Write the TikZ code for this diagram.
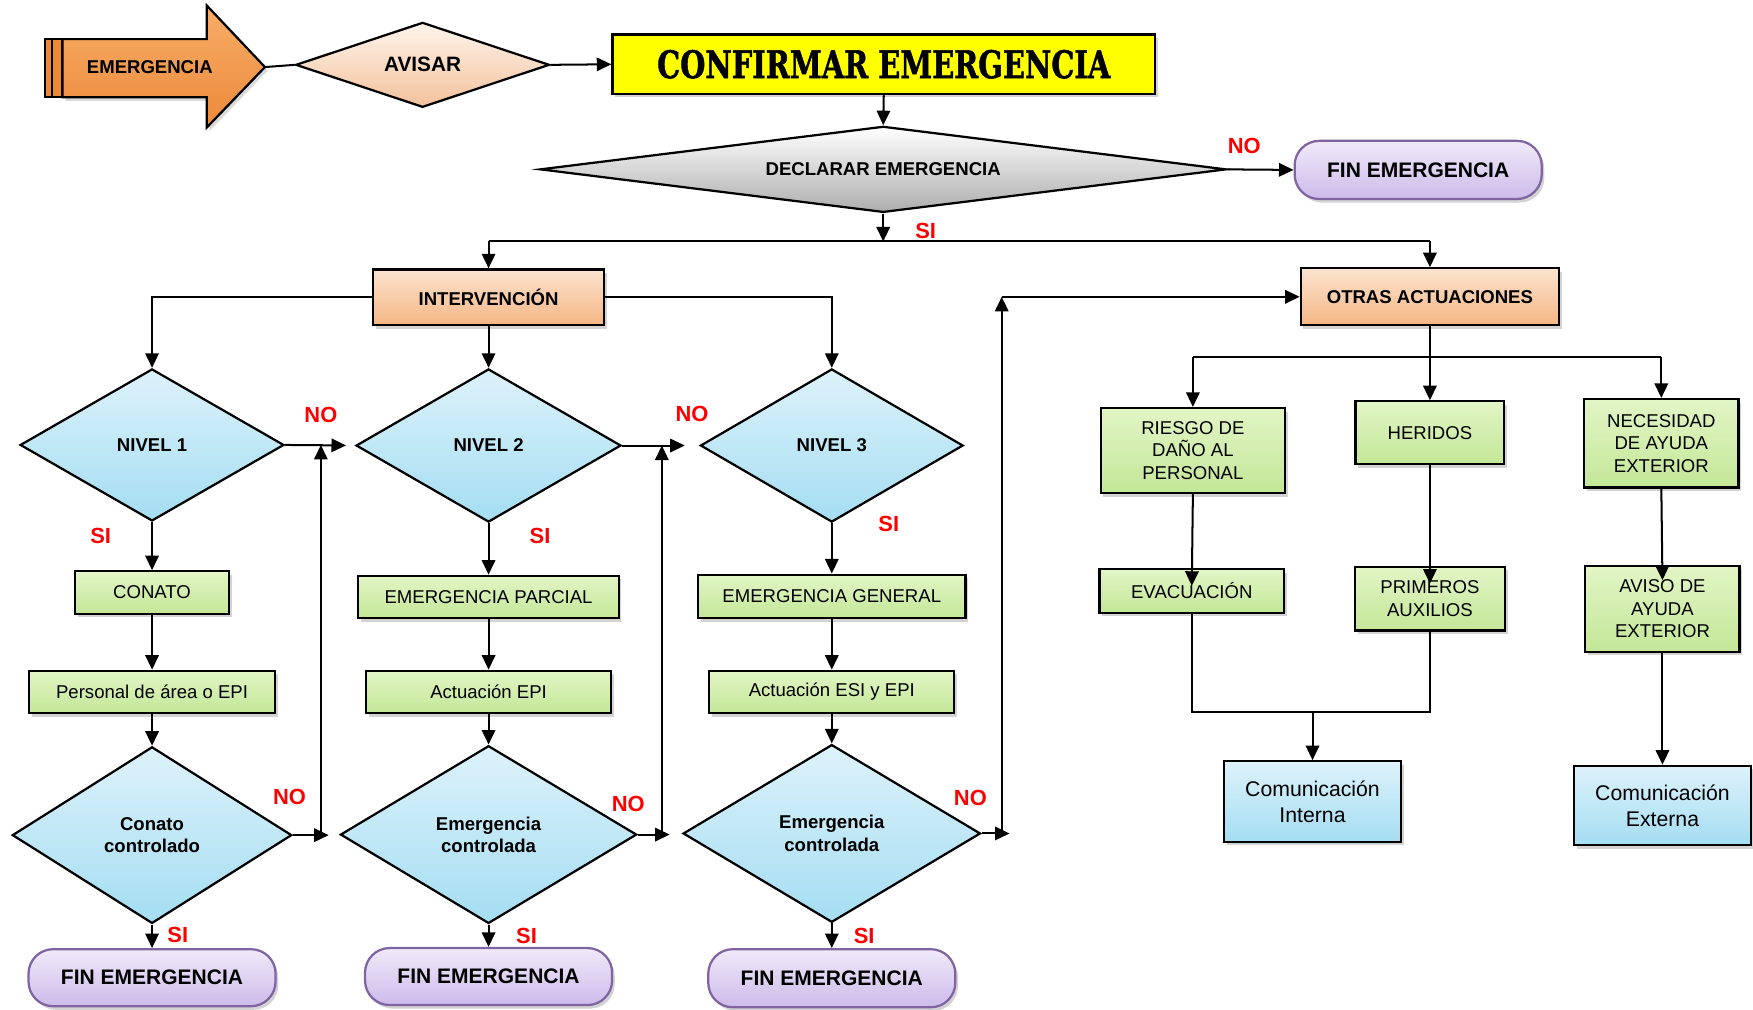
\documentclass[tikz,border=0pt]{standalone}
\usepackage{fontspec}
\setmainfont{Liberation Sans}
\newfontfamily\slabfont{DejaVu Serif}[BoldFeatures={FakeBold=1.5}]
\usetikzlibrary{shapes.geometric,shadows,arrows.meta,calc}
\definecolor{grnT}{HTML}{E2F5C6}
\definecolor{grnB}{HTML}{C3E797}
\definecolor{bluT}{HTML}{DDF2FB}
\definecolor{bluB}{HTML}{A4DDF2}
\definecolor{pchT}{HTML}{FCE3CF}
\definecolor{pchB}{HTML}{F5B684}
\definecolor{lavT}{HTML}{F0EAF9}
\definecolor{lavB}{HTML}{CDBAEA}
\definecolor{lavD}{HTML}{8064A2}
\definecolor{orT}{HTML}{F7AD68}
\definecolor{orB}{HTML}{EC8A3A}
\definecolor{avT}{HTML}{FFF4EC}
\definecolor{avB}{HTML}{F2C29C}
\definecolor{yel}{HTML}{FFFF00}
\definecolor{lblred}{HTML}{FF0000}
\begin{document}
\begin{tikzpicture}[x=0.5pt,y=-0.5pt,
  base/.style={draw=black, line width=1pt, inner sep=1pt, align=center,
    font=\fontsize{8.3}{10}\selectfont},
  shad/.style={drop shadow={opacity=0.35, shadow xshift=1.2pt, shadow yshift=-1.6pt}},
  greenbox/.style={base, rectangle, top color=grnT, bottom color=grnB, shad},
  bluebox/.style={base, rectangle, top color=bluT, bottom color=bluB, shad,
    font=\fontsize{9.5}{11.5}\selectfont},
  peachbox/.style={base, rectangle, top color=pchT, bottom color=pchB, shad,
    font=\bfseries\fontsize{8.3}{10}\selectfont},
  bluediam/.style={base, diamond, aspect=1.7, inner sep=0pt, top color=bluT, bottom color=bluB,
    font=\bfseries\fontsize{8.3}{10}\selectfont},
  finbox/.style={base, draw=lavD, rectangle, rounded corners=11pt, top color=lavT,
    bottom color=lavB, shad, minimum width=110.5pt, minimum height=25.5pt,
    font=\bfseries\fontsize{9.4}{11}\selectfont},
  arr/.style={line width=0.9pt, -{Triangle[length=6.5pt,width=6pt]}},
  ln/.style={line width=0.9pt},
  lab/.style={text=lblred, inner sep=0pt, font=\bfseries\fontsize{9.8}{11}\selectfont}]
\useasboundingbox (0,0) rectangle (1568,903);

% ---- EMERGENCIA arrow
\fill[orB] (40,35) rectangle (46,87);
\draw[line width=0.8pt] (40,35) rectangle (46,87);
\fill[orB] (47,35) rectangle (55,87);
\draw[line width=0.8pt] (47,35) rectangle (55,87);
\path[draw=black, line width=1pt, top color=orT, bottom color=orB,
  drop shadow={opacity=0.3, shadow xshift=1.2pt, shadow yshift=-1.6pt}]
  (56,35) -- (185,35) -- (185,5) -- (237,60) -- (185,114) -- (185,87) -- (56,87) -- cycle;
\node[inner sep=0pt, font=\bfseries\fontsize{8.3}{10}\selectfont] (emerg) at (134,60) {EMERGENCIA};
\coordinate (etip) at (237,60);

% ---- top row
\node[base, diamond, aspect=3, inner sep=0pt, top color=avT, bottom color=avB, minimum width=113.5pt,
  minimum height=38pt, font=\bfseries\fontsize{9.3}{11}\selectfont] (avisar) at (378,58) {AVISAR};
\node[base, rectangle, fill=yel, shad, minimum width=242.5pt, minimum height=26.5pt,
  line width=1.2pt] (confirm) at (790.5,57.5)
  {\slabfont\bfseries\fontsize{17}{18}\selectfont\scalebox{0.76}[1]{CONFIRMAR EMERGENCIA}};
\node[base, diamond, aspect=8, inner sep=0pt, top color=white, bottom color=black!32, minimum width=307pt,
  minimum height=38.5pt, font=\bfseries\fontsize{8.3}{10}\selectfont] (declarar)
  at (790,151.5) {DECLARAR EMERGENCIA};
\node[finbox, minimum height=26pt] (fin0) at (1268.5,152) {FIN EMERGENCIA};

% ---- second level
\node[peachbox, minimum width=103.5pt, minimum height=25pt] (interv) at (437,266) {INTERVENCIÓN};
\node[peachbox, minimum width=115.5pt, minimum height=25.5pt] (otras) at (1279,265.5) {OTRAS ACTUACIONES};

% ---- columns
\node[bluediam, minimum width=118pt, minimum height=68pt] (n1) at (136,398) {NIVEL 1};
\node[bluediam, minimum width=118.5pt, minimum height=68.5pt] (n2) at (437,398.5) {NIVEL 2};
\node[bluediam, minimum width=117.5pt, minimum height=68.5pt] (n3) at (744,398.5) {NIVEL 3};

\node[greenbox, minimum width=69pt, minimum height=19pt] (conato) at (136,530) {CONATO};
\node[greenbox, minimum width=116.5pt, minimum height=19pt] (parcial) at (437,534) {EMERGENCIA PARCIAL};
\node[greenbox, minimum width=119.5pt, minimum height=19.5pt] (general) at (744,533.5) {EMERGENCIA GENERAL};

\node[greenbox, minimum width=110pt, minimum height=19pt] (personal) at (136,619) {Personal de área o EPI};
\node[greenbox, minimum width=109.5pt, minimum height=19pt] (actepi) at (437,619) {Actuación EPI};
\node[greenbox, minimum width=109.5pt, minimum height=19pt] (actesi) at (744,619) {Actuación ESI y EPI};

\node[bluediam, minimum width=125pt, minimum height=79pt] (cc1) at (136,747) {Conato\\controlado};
\node[bluediam, minimum width=132.5pt, minimum height=79.5pt] (cc2) at (437,746.5) {Emergencia\\controlada};
\node[bluediam, minimum width=133pt, minimum height=79.5pt] (cc3) at (744,745.5) {Emergencia\\controlada};

\node[finbox] (fin1) at (136,874.5) {FIN EMERGENCIA};
\node[finbox] (fin2) at (437,873.5) {FIN EMERGENCIA};
\node[finbox, minimum height=26pt] (fin3) at (744,875) {FIN EMERGENCIA};

% ---- right part
\node[greenbox, minimum width=82.5pt, minimum height=38pt] (riesgo) at (1067,403) {RIESGO DE\\DAÑO AL\\PERSONAL};
\node[greenbox, minimum width=66.5pt, minimum height=28pt] (heridos) at (1279,387) {HERIDOS};
\node[greenbox, minimum width=69pt, minimum height=39.5pt] (necesidad) at (1486,396.5) {NECESIDAD\\DE AYUDA\\EXTERIOR};
\node[greenbox, minimum width=82.5pt, minimum height=19.5pt] (evac) at (1066,528.5) {EVACUACIÓN};
\node[greenbox, minimum width=67pt, minimum height=28.5pt] (primeros) at (1279,535.5) {PRIMEROS\\AUXILIOS};
\node[greenbox, minimum width=69pt, minimum height=38.5pt] (aviso) at (1487,544.5) {AVISO DE\\AYUDA\\EXTERIOR};
\node[bluebox, minimum width=79pt, minimum height=36pt] (cint) at (1174,717) {Comunicación\\Interna};
\node[bluebox, minimum width=79pt, minimum height=35.5pt] (cext) at (1487,720.5) {Comunicación\\Externa};

% ---- coordinates
\coordinate (split) at (790,216);
\coordinate (r1t) at (287,398);
\coordinate (r1b) at (287,747);
\coordinate (o1) at (294,747);
\coordinate (r2t) at (592,398.5);
\coordinate (r2b) at (592,746.5);
\coordinate (o2) at (599,746.5);
\coordinate (r3t) at (896,265.5);
\coordinate (r3b) at (896,745.5);
\coordinate (o3) at (903,745.5);
\coordinate (b1) at (1067,319);
\coordinate (b3) at (1486,319);
\coordinate (jn) at (1174,637);

% ---- connectors
\draw[ln] (etip) -- (avisar.west);
\draw[arr] (avisar.east) -- (confirm.west);
\draw[arr] (confirm.south) -- (declarar.north);
\draw[arr] (declarar.east) -- (fin0.west);
\draw[arr] (declarar.south) -- (split);
\draw[ln] (interv.north |- split) -- (otras.north |- split);
\draw[arr] (interv.north |- split) -- (interv.north);
\draw[arr] (otras.north |- split) -- (otras.north);
\draw[arr] (interv.west) -| (n1.north);
\draw[arr] (interv.east) -| (n3.north);
\draw[arr] (interv.south) -- (n2.north);

\draw[arr] (n1.south) -- (conato.north);
\draw[arr] (conato.south) -- (personal.north);
\draw[arr] (personal.south) -- (cc1.north);
\draw[arr] (cc1.south) -- (fin1.north);
\draw[arr] (n2.south) -- (parcial.north);
\draw[arr] (parcial.south) -- (actepi.north);
\draw[arr] (actepi.south) -- (cc2.north);
\draw[arr] (cc2.south) -- (fin2.north);
\draw[arr] (n3.south) -- (general.north);
\draw[arr] (general.south) -- (actesi.north);
\draw[arr] (actesi.south) -- (cc3.north);
\draw[arr] (cc3.south) -- (fin3.north);

\draw[arr, shorten >=4pt] (n1.east) -- (n2.west);
\draw[arr, shorten >=6.5pt] (n2.east) -- (n3.west);
\draw[arr] (cc1.east) -- (o1);
\draw[arr] (cc2.east) -- (o2);
\draw[arr] (cc3.east) -- (o3);
\draw[arr] (r1b) -- (r1t);
\draw[arr] (r2b) -- (r2t);
\draw[arr] (r3b) -- (r3t);
\draw[arr] (r3t) -- (otras.west);

\draw[arr] (otras.south) -- (heridos.north);
\draw[ln] (b1) -- (b3);
\draw[arr] (b1) -- (riesgo.north);
\draw[arr] (b3) -- (necesidad.north);
\draw[arr] (riesgo.south) -- ([yshift=-8pt]evac.north);
\draw[arr] (heridos.south) -- ([yshift=-8pt]primeros.north);
\draw[arr] (necesidad.south) -- ([yshift=-7pt]aviso.north);
\draw[ln] (evac.south) |- (jn) -| (primeros.south);
\draw[arr] (jn) -- (cint.north);
\draw[arr] (aviso.south) -- (cext.north);

% ---- labels
\node[lab] (l1) at (1113,131) {NO};
\node[lab] (l2) at (828,207) {SI};
\node[lab] (l3) at (287,371) {NO};
\node[lab] (l4) at (619,370) {NO};
\node[lab] (l5) at (90,479) {SI};
\node[lab] (l6) at (483,479) {SI};
\node[lab] (l7) at (795,469) {SI};
\node[lab] (l8) at (259,713) {NO};
\node[lab] (l9) at (562,719) {NO};
\node[lab] (l10) at (868,714) {NO};
\node[lab] (l11) at (159,836) {SI};
\node[lab] (l12) at (471,837) {SI};
\node[lab] (l13) at (773,837) {SI};
\end{tikzpicture}
\end{document}
